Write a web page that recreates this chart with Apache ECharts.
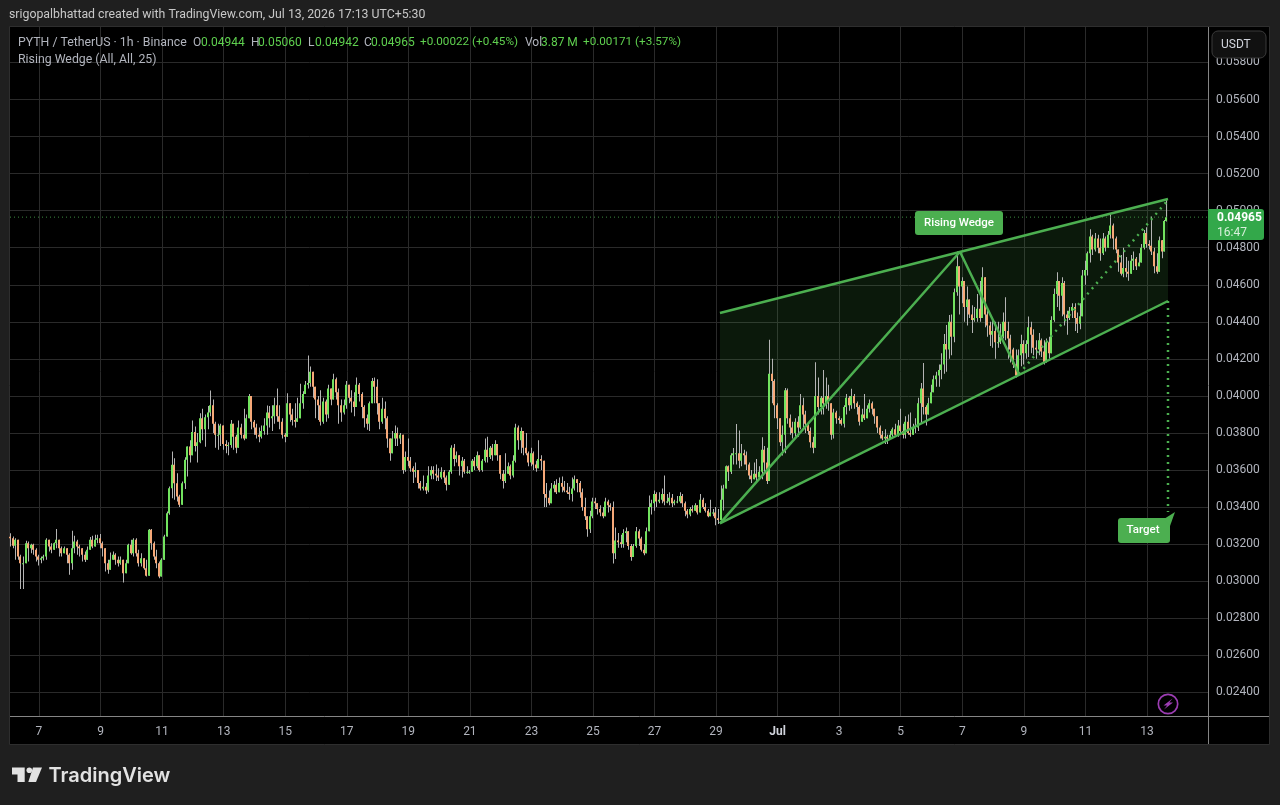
<!DOCTYPE html>
<html>
<head>
<meta charset="utf-8">
<title>PYTH / TetherUS</title>
<style>
html,body{margin:0;padding:0;background:#1f1f1f}
#chart{width:1280px;height:805px}
</style>
<script src="https://cdn.jsdelivr.net/npm/echarts@6/dist/echarts.min.js"></script>
</head>
<body>
<div id="chart"></div>
<script>
// Candles as [close, high, low] in units of 0.00001 USDT; each opens at the previous close.
const barsJun06 = [
[3232,3259,3187],[3191,3241,3178],[3223,3232,3115],[3133,3223,3115],[3097,3142,2957],[3097,3133,2957],
[3205,3218,3097],[3178,3214,3106],[3196,3202,3151],[3169,3202,3142],[3133,3178,3106],[3115,3142,3085],
[3124,3133,3097],[3133,3142,3112],[3223,3232,3115],[3187,3214,3160],[3169,3205,3151],[3205,3209,3178],
[3223,3281,3178],[3178,3214,3133],[3151,3187,3133],[3178,3187,3151],[3142,3178,3097],[3097,3151,3034],
[3178,3272,3061],[3214,3245,3151],[3187,3223,3142],[3178,3196,3133],[3142,3169,3106],[3115,3160,3103],
[3169,3187,3142],[3223,3238,3178],[3187,3245,3178],[3223,3250,3187],[3232,3250,3205],[3205,3254,3178],
[3178,3214,3133],[3097,3178,3052],[3061,3115,3040],[3115,3155,3061],[3142,3160,3124],[3115,3151,3088],
[3097,3133,3079],[3115,3133,3088],[3043,3097,2993],[3097,3115,3043],[3196,3202,3097],[3151,3223,3142],
[3223,3232,3133],[3151,3232,3133],[3097,3169,3079],[3124,3151,3079],[3070,3115,3061],[3029,3115,3025],
[3277,3281,3061],[3205,3281,3169],[3133,3214,3115],[3097,3169,3070],[3025,3106,3016]
];
const barsJun11 = [
[3115,3124,3025],[3241,3250,3115],[3367,3376,3241],[3502,3511,3358],[3628,3700,3448],[3529,3664,3439],
[3457,3583,3430],[3412,3466,3400],[3529,3538,3421],[3655,3669,3497],[3727,3727,3565],[3680,3760,3640],
[3805,3867,3680],[3730,3835,3700],[3750,3800,3640],[3880,3907,3745],[3820,3930,3760],[3885,3900,3725],
[3910,3945,3820],[3950,4029,3890],[3850,3980,3800],[3790,3860,3720],[3790,3850,3710],[3840,3850,3730],
[3740,3780,3710],[3730,3760,3690],[3735,3750,3680],[3850,3870,3720],[3780,3820,3710],[3720,3790,3690],
[3830,3867,3720],[3790,3850,3770],[3770,3930,3760],[3880,3900,3820],[4000,4010,3880],[3860,4000,3820],
[3830,3870,3790],[3790,3850,3770],[3780,3830,3750],[3810,3840,3770],[3840,3880,3790],[3910,3948,3790],
[3880,3945,3830],[3890,3950,3810],[3950,3990,3850],[3890,4040,3860],[3860,3950,3820],[3790,3880,3770],
[3780,3800,3750],[3960,4015,3780],[3900,3960,3860],[3870,3930,3840],[3860,3960,3830],[3880,3990,3860],
[3960,4065,3930],[4010,4025,3930],[4060,4080,4010],[4070,4218,4040],[4130,4159,4050],[4050,4130,3990]
];
const barsJun16 = [
[3980,4040,3880],[3950,4000,3870],[3860,4030,3840],[3970,3990,3850],[3900,3980,3860],[4040,4060,3880],
[3980,4010,3950],[4090,4120,3980],[4020,4100,3980],[3950,4040,3850],[3910,3980,3860],[3950,3980,3900],
[4060,4080,3930],[3990,4050,3960],[3970,4030,3910],[3940,4020,3890],[4060,4100,4000],[4010,4070,3970],
[3940,4020,3880],[3880,3950,3830],[3850,3900,3817],[3960,3970,3810],[4080,4097,3960],[4050,4100,3960],
[3960,4090,3900],[3860,3960,3820],[3930,3990,3850],[3880,3970,3820],[3770,3890,3720],[3690,3760,3650],
[3770,3810,3740],[3800,3840,3730],[3770,3830,3730],[3790,3800,3740],[3600,3790,3580],[3670,3700,3590],
[3650,3770,3620],[3610,3670,3590],[3590,3620,3530],[3600,3640,3560],[3530,3600,3500],[3500,3540,3490],
[3510,3570,3490],[3490,3530,3470],[3570,3620,3480],[3600,3620,3550],[3580,3620,3550],[3570,3630,3540],
[3560,3610,3540],[3590,3615,3550],[3560,3600,3530],[3520,3570,3490],[3590,3600,3520],[3720,3733,3580],
[3660,3740,3620],[3680,3700,3640],[3620,3680,3570],[3650,3670,3560],[3590,3660,3580],[3590,3620,3580]
];
const barsJun21 = [
[3590,3600,3580],[3650,3660,3590],[3620,3670,3600],[3680,3700,3610],[3600,3660,3590],[3650,3660,3590],
[3710,3770,3640],[3670,3780,3640],[3720,3730,3660],[3680,3740,3650],[3740,3760,3680],[3680,3730,3650],
[3580,3680,3550],[3540,3600,3500],[3580,3690,3530],[3620,3640,3580],[3570,3630,3550],[3650,3680,3560],
[3830,3850,3640],[3760,3840,3710],[3810,3830,3690],[3720,3800,3680],[3690,3800,3680],[3640,3700,3620],
[3690,3720,3620],[3630,3700,3600],[3610,3650,3590],[3660,3760,3640],[3650,3680,3600],[3470,3640,3400],
[3450,3530,3400],[3420,3490,3410],[3500,3530,3430],[3520,3540,3480],[3480,3550,3470],[3530,3560,3490],
[3510,3565,3480],[3490,3540,3480],[3480,3530,3470],[3470,3510,3440],[3500,3560,3430],[3550,3570,3490],
[3530,3550,3480],[3480,3540,3450],[3400,3500,3380],[3350,3450,3330],[3280,3350,3240],[3350,3380,3260],
[3430,3450,3340],[3420,3450,3390],[3390,3420,3360],[3370,3410,3350],[3350,3400,3340],[3430,3450,3350],
[3410,3440,3370],[3400,3420,3380],[3150,3430,3095],[3220,3290,3120],[3210,3260,3180],[3200,3250,3180]
];
const barsJun26 = [
[3260,3280,3180],[3270,3290,3210],[3190,3270,3170],[3130,3200,3110],[3190,3200,3170],[3270,3292,3180],
[3230,3280,3190],[3170,3240,3160],[3150,3200,3140],[3270,3290,3190],[3400,3463,3280],[3420,3440,3360],
[3470,3490,3380],[3430,3480,3400],[3440,3480,3420],[3470,3500,3420],[3430,3571,3410],[3430,3470,3420],
[3450,3480,3410],[3420,3470,3400],[3430,3440,3410],[3430,3460,3420],[3460,3480,3420],[3420,3470,3400],
[3380,3430,3350],[3360,3390,3340],[3390,3400,3350],[3380,3410,3370],[3410,3420,3380],[3370,3400,3360],
[3440,3470,3380],[3400,3450,3390],[3380,3420,3370],[3350,3390,3345],[3370,3440,3350],[3370,3390,3350],
[3340,3400,3302],[3330,3390,3309],[3440,3516,3320],[3500,3520,3381],[3620,3624,3507],[3590,3625,3540],
[3680,3690,3579],[3690,3719,3630],[3690,3849,3630],[3650,3813,3610],[3690,3740,3620],[3680,3710,3630],
[3630,3700,3600],[3570,3640,3550],[3550,3600,3530],[3580,3640,3550],[3560,3660,3540],[3590,3620,3560],
[3710,3777,3550],[3640,3730,3580],[3540,3720,3525],[4120,4303,3540],[4080,4200,3960],[3950,4090,3880]
];
const barsJul01 = [
[3880,3960,3822],[3750,3880,3730],[3790,3840,3678],[4030,4043,3690],[3880,4040,3850],[3830,3900,3790],
[3800,3860,3770],[3860,3880,3780],[3830,3890,3780],[3950,4010,3820],[3900,3990,3830],[3850,3920,3800],
[3810,3850,3790],[3750,3830,3720],[3720,3780,3690],[4000,4182,3800],[3940,4100,3900],[3990,4000,3900],
[3960,4140,3900],[4000,4100,3930],[3960,4060,3920],[3790,3960,3763],[3910,3930,3770],[3880,3920,3850],
[3870,3890,3850],[3850,3880,3840],[3940,3950,3830],[3990,4010,3900],[3950,4000,3920],[4000,4038,3930],
[3960,4010,3930],[3940,3970,3900],[3860,3950,3840],[3900,3930,3860],[3880,4010,3870],[3930,3950,3880],
[3960,3980,3910],[3930,3970,3900],[3890,3930,3850],[3830,3890,3800],[3790,3840,3770],[3770,3810,3760],
[3780,3820,3740],[3770,3790,3740],[3790,3810,3770],[3820,3830,3780],[3790,3850,3780],[3840,3870,3780],
[3810,3930,3790],[3790,3850,3770],[3860,3890,3770],[3800,3900,3790],[3790,3910,3780],[3830,3850,3790],
[3830,3880,3800],[3960,3990,3810],[4040,4070,3850],[3940,4178,3900],[3900,3950,3840],[3960,3990,3900]
];
const barsJul06 = [
[4020,4060,3980],[4090,4110,4020],[4110,4130,4050],[4140,4170,4050],[4170,4230,4090],[4280,4334,4120],
[4250,4383,4130],[4400,4437,4200],[4320,4440,4220],[4560,4580,4290],[4700,4779,4540],[4590,4680,4440],
[4620,4640,4500],[4480,4620,4400],[4520,4590,4380],[4440,4520,4420],[4410,4490,4340],[4420,4480,4400],
[4470,4550,4400],[4420,4620,4400],[4640,4694,4420],[4440,4640,4370],[4380,4480,4320],[4330,4400,4270],
[4350,4420,4260],[4290,4400,4200],[4290,4400,4260],[4320,4390,4280],[4400,4450,4310],[4350,4532,4300],
[4310,4400,4200],[4250,4330,4180],[4170,4260,4150],[4110,4250,4100],[4220,4250,4110],[4280,4330,4160],
[4230,4300,4170],[4280,4300,4200],[4370,4428,4210],[4330,4400,4230],[4260,4360,4220],[4250,4300,4200],
[4300,4340,4220],[4240,4310,4210],[4180,4300,4170],[4290,4310,4190],[4230,4320,4200],[4410,4430,4240],
[4550,4580,4400],[4620,4668,4480],[4540,4600,4460],[4610,4640,4430],[4440,4620,4380],[4420,4460,4330],
[4460,4480,4410],[4480,4500,4420],[4420,4500,4350],[4390,4450,4340],[4430,4500,4360],[4650,4680,4430]
];
const barsJul11 = [
[4680,4730,4600],[4770,4780,4650],[4860,4899,4720],[4790,4870,4760],[4850,4880,4780],[4800,4870,4770],
[4770,4850,4730],[4850,4880,4760],[4800,4860,4780],[4870,4890,4800],[4920,4986,4850],[4850,4930,4790],
[4790,4860,4770],[4720,4790,4670],[4660,4760,4650],[4690,4800,4640],[4670,4750,4640],[4660,4730,4622],
[4730,4760,4660],[4740,4779,4680],[4700,4750,4680],[4720,4770,4700],[4800,4820,4720],[4880,4896,4790],
[4820,4910,4800],[4810,4840,4790],[4780,4968,4760],[4700,4800,4662],[4670,4770,4660],[4840,4860,4700],
[4780,4842,4743],[4944,4950,4780],[4965,5060,4942]
];
const allBars = [...barsJun06, ...barsJun11, ...barsJun16, ...barsJun21, ...barsJun26, ...barsJul01, ...barsJul06, ...barsJul11];
const firstOpen = 3240;

// Time axis is in hours since Jun 6 00:00.
const dayTickHours = [24,72,120,168,216,264,312,360,408,456,504,552,600,648,696,744,792,840,888];
const dayTickLabels = ['7','9','11','13','15','17','19','21','23','25','27','29','Jul','3','5','7','9','11','13'];
const priceTicks = [0.024,0.026,0.028,0.030,0.032,0.034,0.036,0.038,0.040,0.042,0.044,0.046,0.048,0.050,0.052,0.054,0.056,0.058];

// Pattern drawing anchors as [hour, price].
const wedgeTop = [[555,0.044475],[904.4,0.050629]];
const wedgeBottom = [[555,0.033123],[904.4,0.045123]];
const wedgeZigzag = [[555,0.033123],[742.2,0.047784],[788.2,0.041182]];
const wedgeProjection = [[788.2,0.041182],[904.4,0.050575]];
const targetDrop = [[904.4,0.045123],[904.4,0.033733]];
const lastPrice = 0.04965;
const lastPriceLine = [[1.39,lastPrice],[935.6,lastPrice]];

const C_GREEN = '#4caf50', C_TEXT = '#b2b5be';
const FONT = 'Roboto, "Liberation Sans", sans-serif';

let prev = firstOpen;
const candleData = allBars.map(([c, h, l], i) => {
  const o = prev; prev = c;
  const hour = i < allBars.length - 1 ? 1.5 + 2 * i : 1.5 + 2 * (i - 1) + 1;
  return [hour, o * 1e-5, c * 1e-5, Math.min(l, o, c) * 1e-5, Math.max(h, o, c) * 1e-5];
});

function renderCandle(params, api) {
  const x = Math.round(api.coord([api.value(0), 0])[0]);
  const yO = api.coord([0, api.value(1)])[1];
  const yC = api.coord([0, api.value(2)])[1];
  const yL = api.coord([0, api.value(3)])[1];
  const yH = api.coord([0, api.value(4)])[1];
  const up = api.value(2) >= api.value(1);
  return {
    type: 'group',
    children: [
      { type: 'rect', shape: { x: x, y: yH, width: 1, height: yL - yH }, style: { fill: '#b4b4b4' } },
      { type: 'rect', shape: { x: x - 1, y: Math.min(yO, yC), width: 2, height: Math.max(1, Math.abs(yO - yC)) },
        style: { fill: up ? '#72e35f' : '#f6a878' } }
    ]
  };
}

function renderWedgeFill(params, api) {
  const pts = [wedgeTop[0], wedgeTop[1], wedgeBottom[1], wedgeBottom[0]].map(p => api.coord(p));
  return { type: 'polygon', shape: { points: pts }, style: { fill: 'rgba(76,175,80,0.14)' } };
}

const solid = (data) => ({ type: 'line', data, symbol: 'none', silent: true, z: 5, animation: false,
  lineStyle: { color: C_GREEN, width: 2.5 } });
const dotted = (data, width, dash, opacity) => ({ type: 'line', data, symbol: 'none', silent: true, z: 5, animation: false,
  lineStyle: { color: C_GREEN, width, type: dash, opacity } });

const txt = (x, y, text, fill, extra) => ({ type: 'text', x, y, z: 20, silent: true,
  style: Object.assign({ text, fill, font: '12px ' + FONT, textVerticalAlign: 'middle' }, extra || {}) });
const rect = (x, y, w, h, fill, extra) => ({ type: 'rect', z: 15, silent: true, shape: Object.assign({ x, y, width: w, height: h }, extra && extra.shape || {}),
  style: Object.assign({ fill }, extra && extra.style || {}) });
const wide = { font: '12.3px ' + FONT };
const tight = { font: '11.7px ' + FONT };

const graphics = [
  // panels behind the plot
  { type: 'rect', z: -10, silent: true, shape: { x: 9.5, y: 26.5, width: 1260, height: 718 }, style: { fill: '#000', stroke: '#2e2e2e', lineWidth: 1 } },
  // axis frame extensions
  { type: 'line', z: 15, silent: true, shape: { x1: 10, y1: 716.5, x2: 1269, y2: 716.5 }, style: { stroke: '#858585', lineWidth: 1 } },
  { type: 'line', z: 15, silent: true, shape: { x1: 1208.5, y1: 27, x2: 1208.5, y2: 744 }, style: { stroke: '#858585', lineWidth: 1 } },
  // title strip
  txt(9, 15, 'srigopalbhattad created with TradingView.com, Jul 13, 2026 17:13 UTC+5:30', '#c8c8c8', wide),
  // OHLC legend
  txt(18, 42.5, 'PYTH / TetherUS · 1h · Binance', C_TEXT, wide),
  txt(193, 42.5, 'O', C_TEXT), txt(201, 42.5, '0.04944', '#5fd04f'),
  txt(251, 42.5, 'H', C_TEXT), txt(258, 42.5, '0.05060', '#5fd04f'),
  txt(308, 42.5, 'L', C_TEXT), txt(315, 42.5, '0.04942', '#5fd04f'),
  txt(364, 42.5, 'C', C_TEXT), txt(371, 42.5, '0.04965', '#5fd04f'),
  txt(420, 42.5, '+0.00022 (+0.45%)', '#5fd04f', tight),
  txt(525, 42.5, 'Vol', C_TEXT), txt(541, 42.5, '3.87 M', '#5fd04f'),
  txt(583, 42.5, '+0.00171 (+3.57%)', '#5fd04f', tight),
  txt(18, 59.5, 'Rising Wedge (All, All, 25)', C_TEXT, wide),
  // currency button
  rect(1212, 31, 54, 27, '#111', { shape: { r: 6 }, style: { stroke: '#3a3a3a', lineWidth: 1 } }),
  txt(1221, 44.5, 'USDT', '#d1d4dc'),
  // last price tag
  rect(1208, 209, 56, 31, '#33a84a', { shape: { r: [0, 3, 3, 0] } }),
  txt(1217, 218, '0.04965', '#fff', { font: 'bold 12px ' + FONT }),
  txt(1217, 232.5, '16:47', '#d6f0da'),
  // pattern callouts
  rect(915, 211, 88, 24, C_GREEN, { shape: { r: 3 } }),
  txt(959, 223, 'Rising Wedge', '#fff', { textAlign: 'center', font: '500 11.5px ' + FONT }),
  rect(1118, 518, 52, 25, C_GREEN, { shape: { r: 3 } }),
  { type: 'polygon', z: 15, silent: true, shape: { points: [[1164, 519], [1175, 512], [1170, 526]] }, style: { fill: C_GREEN } },
  txt(1143, 530, 'Target', '#fff', { textAlign: 'center', font: '500 11.5px ' + FONT }),
  // alert badge
  { type: 'circle', z: 15, silent: true, shape: { cx: 1168, cy: 704, r: 9.7 }, style: { fill: 'none', stroke: '#9c3db3', lineWidth: 1.7 } },
  { type: 'polygon', z: 15, silent: true, shape: { points: [[1172.5, 698.5], [1163.5, 705.5], [1167.2, 705.5], [1164, 709.5], [1173, 702.5], [1169.3, 702.5]] }, style: { fill: '#9c3db3' } },
  // wordmark
  { type: 'polygon', z: 15, silent: true, shape: { points: [[12, 767.5], [24.7, 767.5], [24.7, 782], [17.5, 782], [17.5, 774.5], [12, 774.5]] }, style: { fill: '#e2e2e2' } },
  { type: 'circle', z: 15, silent: true, shape: { cx: 29.3, cy: 770.2, r: 2.8 }, style: { fill: '#e2e2e2' } },
  { type: 'polygon', z: 15, silent: true, shape: { points: [[33, 767.5], [42, 767.5], [36, 782], [28.3, 782]] }, style: { fill: '#e2e2e2' } },
  txt(48.5, 775.5, 'TradingView', '#e2e2e2', { font: '600 20px Inter, ' + FONT })
];

const option = {
  backgroundColor: '#1f1f1f',
  animation: false,
  grid: { left: 10, right: 72, top: 27, bottom: 89, containLabel: false },
  xAxis: {
    type: 'value', min: 1.39, max: 935.6,
    axisLine: { show: false },
    axisTick: { show: false, customValues: dayTickHours },
    splitLine: { show: true, lineStyle: { color: '#2a2a2a', width: 1 } },
    axisLabel: {
      customValues: dayTickHours, margin: 10, color: C_TEXT, fontFamily: FONT, fontSize: 12,
      formatter: (v) => {
        const s = dayTickLabels[dayTickHours.indexOf(v)];
        return s === 'Jul' ? '{month|Jul}' : s;
      },
      rich: { month: { fontWeight: 'bold', color: '#d1d4dc', fontFamily: FONT, fontSize: 12 } }
    }
  },
  yAxis: {
    type: 'value', position: 'right', min: 0.022721, max: 0.059914,
    axisLine: { show: false },
    axisTick: { show: false, customValues: priceTicks },
    splitLine: { show: true, lineStyle: { color: '#2a2a2a', width: 1 } },
    axisLabel: {
      customValues: priceTicks, margin: 8, color: C_TEXT, fontFamily: FONT, fontSize: 12,
      formatter: (v) => v.toFixed(5)
    }
  },
  graphic: graphics,
  series: [
    { type: 'custom', name: 'wedge fill', z: 1, silent: true, data: [[0, 0]], renderItem: renderWedgeFill, animation: false },
    { type: 'custom', name: 'PYTHUSDT', z: 2, silent: true, data: candleData, encode: { x: 0, y: [1, 2, 3, 4] }, renderItem: renderCandle, animation: false },
    dotted(lastPriceLine, 1, [1, 3], 0.8),
    solid(wedgeTop), solid(wedgeBottom), solid(wedgeZigzag),
    dotted(wedgeProjection, 2.5, [2, 5]),
    dotted(targetDrop, 2.5, [2, 5])
  ]
};

echarts.init(document.getElementById('chart')).setOption(option);
</script>
</body>
</html>
